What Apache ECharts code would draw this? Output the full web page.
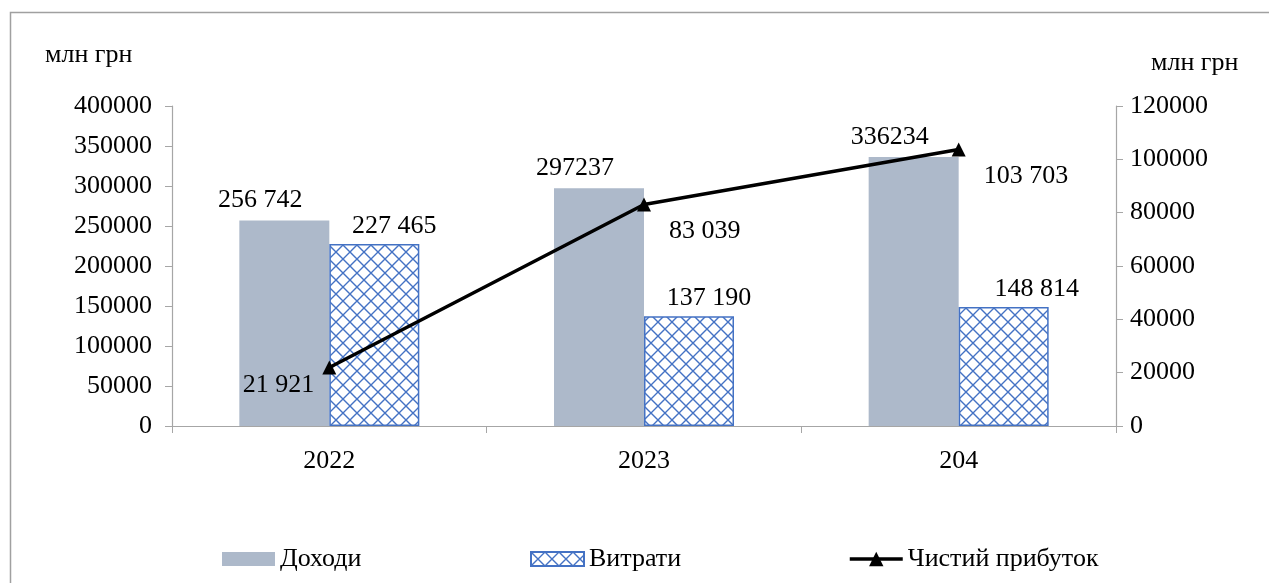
<!DOCTYPE html>
<html>
<head>
<meta charset="utf-8">
<script src="https://cdn.jsdelivr.net/npm/echarts@6/dist/echarts.min.js"></script>
<style>
  html, body { margin: 0; padding: 0; background: #fff; }
  #chart { width: 1269px; height: 583px; }
</style>
</head>
<body>
<div id="chart"></div>
<script>
// Фінансові результати, млн грн
const years = ['2022', '2023', '204'];
const income = [256742, 297237, 336234];
const expenses = [227465, 137190, 148814];
const netProfit = [21921, 83039, 103703];

const incomeLabels = ['256 742', '297237', '336234'];
const expenseLabels = ['227 465', '137 190', '148 814'];
const profitLabels = ['21 921', '83 039', '103 703'];

const leftTicks = { min: 0, max: 400000, interval: 50000 };
const rightTicks = { min: 0, max: 120000, interval: 20000 };

const FONT = 'Liberation Serif';
const FS = 26;
const BLUE = '#4472C4';

// lattice fill for the expenses bars
function latticePattern() {
  const s = 14;
  const c = document.createElement('canvas');
  c.width = s; c.height = s;
  const g = c.getContext('2d');
  g.fillStyle = '#fff';
  g.fillRect(0, 0, s, s);
  g.strokeStyle = BLUE;
  g.lineWidth = 1.4;
  g.beginPath();
  g.moveTo(0, 0); g.lineTo(s, s);
  g.moveTo(s, 0); g.lineTo(0, s);
  g.stroke();
  return c;
}
const pattern = { image: latticePattern(), repeat: 'repeat' };

const axisGray = '#A6A6A6';
const txt = { fontFamily: FONT, fontSize: FS, color: '#000' };
const plain = v => String(v);

// one legend block per series, placed along the bottom row
function legendAt(left, item, extra) {
  return Object.assign({
    left: left, top: 546, padding: 0,
    itemWidth: 53, itemHeight: 14, itemGap: 5,
    textStyle: txt,
    data: [item]
  }, extra || {});
}

const chart = echarts.init(document.getElementById('chart'));
chart.setOption({
  animation: false,
  textStyle: { fontFamily: FONT },
  graphic: [
    { type: 'rect', shape: { x: 10.5, y: 12.5, width: 1300, height: 600 },
      style: { fill: 'none', stroke: '#A0A0A0', lineWidth: 1.5 }, silent: true, z: -1 },
    { type: 'text', left: 45, top: 42, style: { text: 'млн грн', fill: '#000', font: FS + 'px ' + FONT } },
    { type: 'text', left: 1151, top: 50, style: { text: 'млн грн', fill: '#000', font: FS + 'px ' + FONT } }
  ],
  grid: { left: 172, right: 153, top: 106, bottom: 157 },
  legend: [
    legendAt(222, { name: 'Доходи', icon: 'rect' }),
    legendAt(530, { name: 'Витрати', icon: 'rect' }),
    legendAt(848, { name: 'Чистий прибуток', lineStyle: { width: 3.5, color: '#000' } }, { itemHeight: 18 })
  ],
  xAxis: {
    type: 'category', data: years,
    axisLine: { lineStyle: { color: axisGray, width: 1.2 } },
    axisTick: { show: true, length: 7, lineStyle: { color: axisGray } },
    axisLabel: Object.assign({ margin: 22 }, txt)
  },
  yAxis: [
    Object.assign({ type: 'value', position: 'left' }, leftTicks, {
      axisLine: { show: true, lineStyle: { color: axisGray, width: 1.2 } },
      axisTick: { show: true, length: 7, lineStyle: { color: axisGray } },
      splitLine: { show: false },
      axisLabel: Object.assign({ margin: 20, formatter: plain }, txt)
    }),
    Object.assign({ type: 'value', position: 'right' }, rightTicks, {
      axisLine: { show: true, lineStyle: { color: axisGray, width: 1.2 } },
      axisTick: { show: true, length: 7, lineStyle: { color: axisGray } },
      splitLine: { show: false },
      axisLabel: Object.assign({ margin: 14, formatter: plain }, txt)
    })
  ],
  series: [
    {
      name: 'Доходи', type: 'bar', yAxisIndex: 0,
      barWidth: 90, barGap: '0%',
      itemStyle: { color: '#ADB9CA' },
      data: income,
      label: {
        show: true, position: 'top', distance: 7, offset: [-24, 0],
        formatter: p => incomeLabels[p.dataIndex], ...txt
      }
    },
    {
      name: 'Витрати', type: 'bar', yAxisIndex: 0,
      barWidth: 90, barGap: '0%',
      itemStyle: { color: pattern, borderColor: BLUE, borderWidth: 1.5 },
      data: expenses.map((v, i) => ({
        value: v,
        label: { offset: [i === 2 ? 33 : 20, 0] }
      })),
      label: {
        show: true, position: 'top', distance: 5,
        formatter: p => expenseLabels[p.dataIndex], ...txt
      }
    },
    {
      name: 'Чистий прибуток', type: 'line', yAxisIndex: 1,
      symbol: 'triangle', symbolSize: 14,
      lineStyle: { color: '#000', width: 3.5 },
      itemStyle: { color: '#000' },
      z: 5,
      data: netProfit.map((v, i) => ({
        value: v,
        label: i === 0
          ? { position: 'left', distance: 8, offset: [0, 18] }
          : { position: 'right', distance: 18, offset: [0, 27] }
      })),
      label: {
        show: true,
        formatter: p => profitLabels[p.dataIndex], ...txt
      }
    }
  ]
});
</script>
</body>
</html>
